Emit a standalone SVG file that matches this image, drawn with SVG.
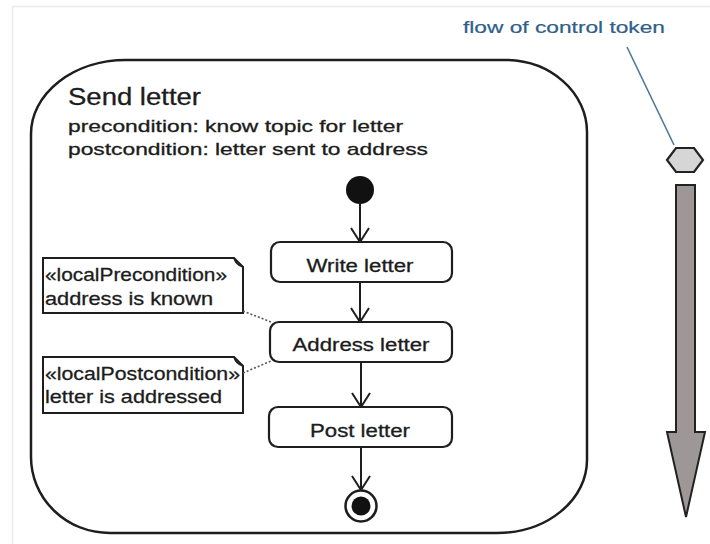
<svg xmlns="http://www.w3.org/2000/svg" width="710" height="544" viewBox="0 0 710 544">
  <style>
    text { font-family: "Liberation Sans", Arial, sans-serif; fill: #1c1c1c; stroke: #1c1c1c; stroke-width: 0.3; }
    .title { font-size: 23px; }
    .cond { font-size: 17px; }
    .act { font-size: 18px; }
    .note { font-size: 18.5px; }
    .label { font-size: 16.5px; fill: #2f5f88; stroke: #2f5f88; stroke-width: 0.2; }
    .frame { fill: none; stroke: #1e1e1e; stroke-width: 2.5; }
    .box { fill: #ffffff; stroke: #1e1e1e; stroke-width: 2.2; }
    .notebox { fill: #ffffff; stroke: #1e1e1e; stroke-width: 2; }
    .flow { fill: none; stroke: #1e1e1e; stroke-width: 2; marker-end: url(#open); }
    .anchor { fill: none; stroke: #555555; stroke-width: 1.6; stroke-dasharray: 2 2; }
  </style>
  <defs>
    <marker id="open" viewBox="0 0 16 20" refX="15" refY="10" markerWidth="16" markerHeight="20" markerUnits="userSpaceOnUse" orient="auto">
      <path d="M1,1 L15,10 L1,19" fill="none" stroke="#1e1e1e" stroke-width="2"/>
    </marker>
  </defs>

  <rect width="710" height="544" fill="#ffffff"/>
  <!-- faint outer frame -->
  <path d="M12.5,544 V6.5 H710" fill="none" stroke="#ebebeb" stroke-width="1.5"/>

  <!-- activity frame -->
  <g id="activity">
    <path class="frame" d="M126,60 H505 A82,72 0 0 1 587,132 V460 A90,73 0 0 1 497,533 H110 A79,76 0 0 1 31,457 V134 A95,74 0 0 1 126,60 Z"/>
    <text class="title" x="68" y="105" textLength="133" lengthAdjust="spacingAndGlyphs">Send letter</text>
    <text class="cond" x="68" y="132" textLength="335" lengthAdjust="spacingAndGlyphs">precondition: know topic for letter</text>
    <text class="cond" x="68" y="155" textLength="360" lengthAdjust="spacingAndGlyphs">postcondition: letter sent to address</text>
  </g>

  <g id="initial">
    <circle cx="360" cy="190" r="14" fill="#111111"/>
  </g>

  <g id="write-letter">
    <rect class="box" x="271" y="242" width="181" height="40" rx="9"/>
    <text class="act" x="360" y="272" text-anchor="middle" textLength="107" lengthAdjust="spacingAndGlyphs">Write letter</text>
  </g>

  <g id="address-letter">
    <rect class="box" x="270" y="322" width="182" height="40" rx="9"/>
    <text class="act" x="361" y="351" text-anchor="middle" textLength="137" lengthAdjust="spacingAndGlyphs">Address letter</text>
  </g>

  <g id="post-letter">
    <rect class="box" x="269" y="407" width="183" height="40" rx="9"/>
    <text class="act" x="360" y="437" text-anchor="middle" textLength="100" lengthAdjust="spacingAndGlyphs">Post letter</text>
  </g>

  <g id="final">
    <circle cx="361" cy="506" r="15.5" fill="#ffffff" stroke="#1e1e1e" stroke-width="2.5"/>
    <circle cx="361" cy="506" r="9.5" fill="#111111"/>
  </g>

  <g id="local-precondition">
    <path class="notebox" d="M43,258 H234 L243,267 V313 H43 Z"/>
    <path d="M234,258 Q236,265 243,267" fill="none" stroke="#1e1e1e" stroke-width="1.6"/>
    <text class="note" x="45" y="281" textLength="182" lengthAdjust="spacingAndGlyphs">«localPrecondition»</text>
    <text class="note" x="45" y="305" textLength="168" lengthAdjust="spacingAndGlyphs">address is known</text>
  </g>

  <g id="local-postcondition">
    <path class="notebox" d="M43,357 H234 L243,366 V413 H43 Z"/>
    <path d="M234,357 Q236,364 243,366" fill="none" stroke="#1e1e1e" stroke-width="1.6"/>
    <text class="note" x="45" y="380" textLength="195" lengthAdjust="spacingAndGlyphs">«localPostcondition»</text>
    <text class="note" x="45" y="403" textLength="177" lengthAdjust="spacingAndGlyphs">letter is addressed</text>
  </g>

  <g id="token">
    <polygon points="667,160 676,148 694,148 703,160 694,172 676,172" fill="#d6d6d6" stroke="#222222" stroke-width="2.2"/>
    <polygon points="676,185 695,185 695,432 705,432 686,517 667,432 676,432" fill="#9d9797" stroke="#222222" stroke-width="2"/>
    <text class="label" x="463" y="33" textLength="202" lengthAdjust="spacingAndGlyphs">flow of control token</text>
  </g>

  <g id="connectors">
    <line class="flow" x1="360" y1="204" x2="360" y2="242"/>
    <line class="flow" x1="360" y1="282" x2="360" y2="322"/>
    <line class="flow" x1="361" y1="362" x2="361" y2="407"/>
    <line class="flow" x1="361" y1="447" x2="361" y2="490"/>
    <line class="anchor" x1="243" y1="311" x2="271" y2="322"/>
    <line class="anchor" x1="243" y1="373" x2="271" y2="361"/>
    <line x1="627" y1="47" x2="674" y2="145" stroke="#4d7896" stroke-width="1.6"/>
  </g>
</svg>
